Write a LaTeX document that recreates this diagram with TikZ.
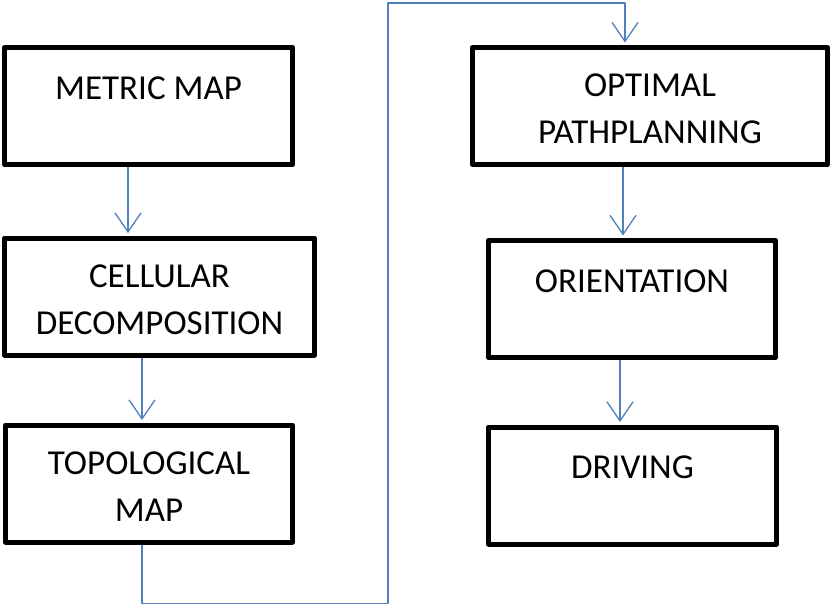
\documentclass[tikz,border=0pt]{standalone}
\usepackage{fontspec}
\setmainfont{Carlito}
\usetikzlibrary{arrows.meta}
\definecolor{linkblue}{RGB}{79,129,189}
\newcommand{\topgap}{\rule{0pt}{29pt}}
\begin{document}
\begin{tikzpicture}[x=1pt,y=-1pt,line join=round,
    box/.style={draw,line width=5pt,minimum width=#1,minimum height=117pt,
        inner sep=0pt,align=center,font=\fontsize{35}{47}\selectfont},
    oneline/.style={text depth=36pt},
    flow/.style={draw=linkblue,line width=1.3pt,shorten >=2.5pt,
        -{Straight Barb[length=19pt,width=26pt,line width=1.3pt]}}]
    \useasboundingbox (0,0) rectangle (833,605);
    % left column
    \node[box=288pt,oneline] (metric) at (148.5,106) {METRIC MAP};
    \node[box=310pt] (cellular) at (159.5,296.5) {\topgap CELLULAR\\DECOMPOSITION};
    \node[box=287pt] (topo) at (149,483.5) {\topgap TOPOLOGICAL\\MAP};
    % right column
    \node[box=355pt] (optimal) at (650,106) {\topgap OPTIMAL\\PATHPLANNING};
    \node[box=287pt,oneline] (orient) at (632,299) {ORIENTATION};
    \node[box=288pt,oneline] (driving) at (632.5,485.5) {DRIVING};
    \draw[flow] ([xshift=-20.5pt]metric.south) -- ([xshift=-31.5pt]cellular.north);
    \draw[flow] ([xshift=-17.5pt]cellular.south) -- ([xshift=-7pt]topo.north);
    \draw[flow] ([xshift=-7pt]topo.south) -- ++(0,59) -| (388,3)
        -| ([xshift=-25pt]optimal.north);
    \draw[flow] ([xshift=-27pt]optimal.south) -- ([xshift=-9pt]orient.north);
    \draw[flow] ([xshift=-12pt]orient.south) -- ([xshift=-12.5pt]driving.north);
\end{tikzpicture}
\end{document}
